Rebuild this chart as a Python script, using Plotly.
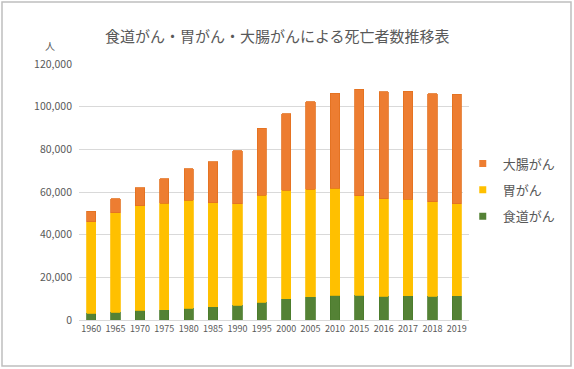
import plotly.graph_objects as go

years = ["1960", "1965", "1970", "1975", "1980", "1985", "1990", "1995",
         "2000", "2005", "2010", "2015", "2016", "2017", "2018", "2019"]
esophagus = [3100, 3750, 4500, 4800, 5600, 6100, 7000, 8400,
             10000, 10900, 11600, 11600, 11100, 11400, 11100, 11400]
stomach = [43000, 46550, 49100, 49900, 50500, 48900, 47500, 50000,
           50800, 50300, 50100, 46700, 45800, 45200, 44400, 43100]
colorectal = [4800, 6600, 8400, 11550, 14800, 19100, 24900, 31400,
              35800, 41000, 44500, 49800, 50000, 50700, 50600, 51300]
y_ticks = [0, 20000, 40000, 60000, 80000, 100000, 120000]

FONT = "Noto Sans CJK JP, Noto Sans, sans-serif"
GRAY = "#595959"

fig = go.Figure()
series = [("食道がん", esophagus, "#548235", "#4a7a2c", 3),
          ("胃がん", stomach, "#ffc000", "#ffc000", 2),
          ("大腸がん", colorectal, "#ed7d31", "#e2701f", 1)]
for name, vals, col, line, rank in series:
    fig.add_trace(go.Bar(x=years, y=vals, name=name, showlegend=False,
                         marker=dict(color=col, line=dict(color=line, width=0.8))))
# legend entries with small square keys
for name, vals, col, line, rank in series:
    fig.add_trace(go.Scatter(x=[None], y=[None], mode="markers", name=name,
                             legendgroup=name, legendrank=rank,
                             marker=dict(symbol="square", size=7, color=col,
                                         line=dict(width=0))))

fig.update_layout(
    barmode="stack",
    bargap=0.62,
    width=574, height=369,
    margin=dict(l=79, r=105, t=64, b=49),
    paper_bgcolor="white", plot_bgcolor="white",
    font=dict(family=FONT, color=GRAY, size=10),
    title=dict(text="食道がん・胃がん・大腸がんによる死亡者数推移表",
               x=0.483, xanchor="center", y=1 - 37 / 369, yanchor="middle",
               font=dict(size=15, color=GRAY, family=FONT)),
    legend=dict(x=0.984, xanchor="left", y=(320 - 190) / 256, yanchor="middle",
                traceorder="grouped", tracegroupgap=6.5,
                font=dict(size=13, color=GRAY, family=FONT),
                itemwidth=30),
    showlegend=True,
    xaxis=dict(showgrid=False, showline=True, linecolor="#d9d9d9", linewidth=1,
               ticks="", tickangle=0, automargin=False,
               tickfont=dict(size=9, color=GRAY)),
    yaxis=dict(range=[0, 120000], tickvals=y_ticks, tickformat=",",
               showgrid=True, gridcolor="#d9d9d9", gridwidth=1,
               zeroline=False, showline=False, ticks="", automargin=False,
               tickfont=dict(size=10.5, color=GRAY), ticklabelstandoff=6),
    annotations=[dict(text="人", xref="paper", yref="paper",
                      x=(50 - 79) / 390, y=(320 - 45) / 256,
                      showarrow=False, font=dict(size=10, color=GRAY),
                      xanchor="center", yanchor="middle")],
    shapes=[dict(type="rect", xref="paper", yref="paper",
                 x0=(2 - 79) / 390, x1=(571 - 79) / 390,
                 y0=(320 - 366) / 256, y1=(320 - 2) / 256,
                 line=dict(color="#bfbfbf", width=1.5), layer="below")],
)

fig.write_html("out.html", config={"displayModeBar": False},
               post_script="document.body.style.margin='0';document.body.style.padding='0';")
